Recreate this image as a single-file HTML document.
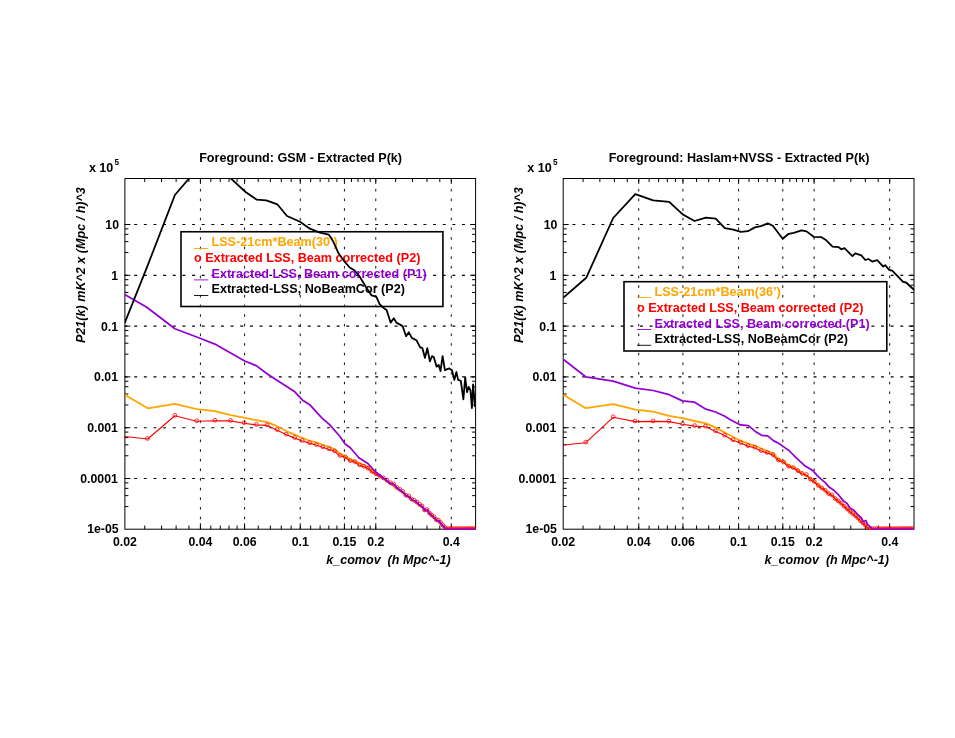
<!DOCTYPE html>
<html><head><meta charset="utf-8"><title>P(k)</title>
<style>html,body{margin:0;padding:0;background:#fff}svg{display:block;will-change:transform}text{font-family:"Liberation Sans",sans-serif;font-weight:bold}</style>
</head><body>
<svg width="955" height="738" viewBox="0 0 955 738">
<rect width="955" height="738" fill="#fff"/>
<clipPath id="c0"><rect x="124.9" y="178.5" width="350.7" height="351.35"/></clipPath>
<path d="M124.60,224.50H475.60M124.60,275.30H475.60M124.60,326.10H475.60M124.60,376.90H475.60M124.60,427.70H475.60M124.60,478.50H475.60" stroke="#000" stroke-width="1.15" stroke-dasharray="2.9 6.741" fill="none"/>
<path d="M200.42,179.25V529.20M244.59,179.25V529.20M300.25,179.25V529.20M344.43,179.25V529.20M375.77,179.25V529.20M451.29,179.25V529.20" stroke="#111" stroke-width="1" stroke-dasharray="2.6 7.041" fill="none"/>
<rect x="124.9" y="178.5" width="350.7" height="350.7" fill="none" stroke="#000" stroke-width="1"/>
<path d="M144.76,529.2v-3.7M144.76,178.5v3.5M161.56,529.2v-3.7M161.56,178.5v3.5M176.11,529.2v-3.7M176.11,178.5v3.5M188.94,529.2v-3.7M188.94,178.5v3.5M210.80,529.2v-3.7M210.80,178.5v3.5M220.28,529.2v-3.7M220.28,178.5v3.5M229.00,529.2v-3.7M229.00,178.5v3.5M237.08,529.2v-3.7M237.08,178.5v3.5M258.23,529.2v-3.7M258.23,178.5v3.5M270.35,529.2v-3.7M270.35,178.5v3.5M281.25,529.2v-3.7M281.25,178.5v3.5M291.17,529.2v-3.7M291.17,178.5v3.5M310.63,529.2v-3.7M310.63,178.5v3.5M320.11,529.2v-3.7M320.11,178.5v3.5M328.83,529.2v-3.7M328.83,178.5v3.5M336.91,529.2v-3.7M336.91,178.5v3.5M351.46,529.2v-3.7M351.46,178.5v3.5M358.06,529.2v-3.7M358.06,178.5v3.5M364.29,529.2v-3.7M364.29,178.5v3.5M370.18,529.2v-3.7M370.18,178.5v3.5M395.63,529.2v-3.7M395.63,178.5v3.5M412.43,529.2v-3.7M412.43,178.5v3.5M426.98,529.2v-3.7M426.98,178.5v3.5M439.81,529.2v-3.7M439.81,178.5v3.5M200.42,529.2v-5.9M200.42,178.5v5.4M244.59,529.2v-5.9M244.59,178.5v5.4M300.25,529.2v-5.9M300.25,178.5v5.4M344.43,529.2v-5.9M344.43,178.5v5.4M375.77,529.2v-5.9M375.77,178.5v5.4M451.29,529.2v-5.9M451.29,178.5v5.4M124.9,506.58h3.5M475.6,506.58h-3.5M124.9,495.63h3.5M475.6,495.63h-3.5M124.9,488.35h3.5M475.6,488.35h-3.5M124.9,482.88h3.5M475.6,482.88h-3.5M124.9,455.78h3.5M475.6,455.78h-3.5M124.9,444.83h3.5M475.6,444.83h-3.5M124.9,437.55h3.5M475.6,437.55h-3.5M124.9,432.08h3.5M475.6,432.08h-3.5M124.9,404.98h3.5M475.6,404.98h-3.5M124.9,394.03h3.5M475.6,394.03h-3.5M124.9,386.75h3.5M475.6,386.75h-3.5M124.9,381.28h3.5M475.6,381.28h-3.5M124.9,354.18h3.5M475.6,354.18h-3.5M124.9,343.23h3.5M475.6,343.23h-3.5M124.9,335.95h3.5M475.6,335.95h-3.5M124.9,330.48h3.5M475.6,330.48h-3.5M124.9,303.38h3.5M475.6,303.38h-3.5M124.9,292.43h3.5M475.6,292.43h-3.5M124.9,285.15h3.5M475.6,285.15h-3.5M124.9,279.68h3.5M475.6,279.68h-3.5M124.9,252.58h3.5M475.6,252.58h-3.5M124.9,241.63h3.5M475.6,241.63h-3.5M124.9,234.35h3.5M475.6,234.35h-3.5M124.9,228.88h3.5M475.6,228.88h-3.5M124.9,224.50h5.5M475.6,224.50h-5.5M124.9,275.30h5.5M475.6,275.30h-5.5M124.9,326.10h5.5M475.6,326.10h-5.5M124.9,376.90h5.5M475.6,376.90h-5.5M124.9,427.70h5.5M475.6,427.70h-5.5M124.9,478.50h5.5M475.6,478.50h-5.5" stroke="#000" stroke-width="1" fill="none"/>
<rect x="181.0" y="231.75" width="261.9" height="74.75" fill="none" stroke="#000" stroke-width="1.6"/>
<g font-size="12.62">
<path d="M194.0,248.5h14.2" stroke="#ffa500" stroke-width="0.9"/>
<text x="211.5" y="246.40" fill="#ffa500">LSS-21cm*Beam(30’)</text>
<text x="194.0" y="261.80" fill="#ff0000">o Extracted LSS, Beam corrected (P2)</text>
<path d="M194.0,279.9h14.2" stroke="#9400d3" stroke-width="0.9"/>
<text x="211.5" y="277.90" fill="#9400d3">Extracted LSS, Beam corrected (P1)</text>
<path d="M194.0,295.5h14.2" stroke="#000" stroke-width="0.9"/>
<text x="211.5" y="293.10" fill="#000">Extracted-LSS, NoBeamCor (P2)</text>
</g>
<g font-size="12.3" fill="#000">
<text x="124.9" y="546" text-anchor="middle">0.02</text>
<text x="200.4" y="546" text-anchor="middle">0.04</text>
<text x="244.6" y="546" text-anchor="middle">0.06</text>
<text x="300.2" y="546" text-anchor="middle">0.1</text>
<text x="344.4" y="546" text-anchor="middle">0.15</text>
<text x="375.8" y="546" text-anchor="middle">0.2</text>
<text x="451.3" y="546" text-anchor="middle">0.4</text>
<text x="119.05" y="229" text-anchor="end">10</text>
<text x="118.05" y="280" text-anchor="end">1</text>
<text x="118.15" y="331" text-anchor="end">0.1</text>
<text x="118.05" y="381" text-anchor="end">0.01</text>
<text x="117.95" y="432" text-anchor="end">0.001</text>
<text x="117.85" y="483" text-anchor="end">0.0001</text>
<text x="118.65" y="533" text-anchor="end">1e-05</text>
</g>
<text x="300.6" y="161.7" font-size="12.6" text-anchor="middle">Foreground: GSM - Extracted P(k)</text>
<text x="88.9" y="172" font-size="12.55">x 10</text>
<text x="114.6" y="165.2" font-size="8.2">5</text>
<text x="450.7" y="564" font-size="12.56" font-style="italic" text-anchor="end" xml:space="preserve" style="white-space:pre">k_comov  (h Mpc^-1)</text>
<text transform="translate(85.0,265.1) rotate(-90)" font-size="12.58" font-style="italic" text-anchor="middle">P21(k) mK^2 x (Mpc / h)^3</text>
<g clip-path="url(#c0)" fill="none" stroke-linejoin="round">
<path d="M124.7,394.7 L147.7,408.3 L174.8,403.9 L196.7,409.2 L214.8,411.1 L230.6,415.2 L243.8,417.7 L256.1,420.1 L267.2,422.2 L276.8,426.2 L290.0,432.7 L300.4,437.2 L308.9,440.5 L316.9,442.6 L323.0,445.0 L329.6,446.9 L335.2,449.7 L340.0,453.5 L345.1,456.3 L350.3,459.1 L356.0,461.5 L362.6,464.3 L368.2,467.1 L372.9,471.4 L379.5,475.6 L390.5,484.0 L403.2,493.0 L415.4,502.2 L427.6,511.0 L436.8,520.0 L446.1,529.2 L475.7,529.2" stroke="#ffa500" stroke-width="1.8"/>
<path d="M124.7,436.5 L147.7,439.0 L174.8,415.8 L196.7,421.3 L214.8,420.7 L230.6,420.9 L243.8,423.2 L256.1,424.9 L267.2,425.4 L276.8,429.9 L285.9,434.5 L294.2,437.9 L301.8,440.7 L309.3,443.1 L316.1,445.0 L322.5,447.3 L328.6,449.2 L334.3,451.1 L339.5,455.8 L345.0,457.2 L349.9,461.0 L354.6,461.9 L359.3,465.2 L364.0,466.8 L367.8,468.5 L372.0,472.0 L375.8,474.2 L379.5,476.6 L384.6,479.0 L390.5,483.4 L393.9,484.4 L396.8,487.8 L403.2,492.2 L405.6,495.6 L409.0,496.6 L412.0,500.0 L415.4,501.0 L418.8,504.4 L422.7,506.8 L424.6,510.7 L427.6,509.8 L429.5,513.7 L434.4,517.6 L436.8,521.0 L438.8,520.5 L441.7,524.4 L446.1,529.2 L475.7,529.2" stroke="#ff0000" stroke-width="1.15"/>
<path d="M149.4,438.5a1.9,1.9 0 1,0 -3.8,0a1.9,1.9 0 1,0 3.8,0M176.8,415.3a1.9,1.9 0 1,0 -3.8,0a1.9,1.9 0 1,0 3.8,0M198.6,420.8a1.9,1.9 0 1,0 -3.8,0a1.9,1.9 0 1,0 3.8,0M216.8,420.2a1.9,1.9 0 1,0 -3.8,0a1.9,1.9 0 1,0 3.8,0M232.4,420.4a1.9,1.9 0 1,0 -3.8,0a1.9,1.9 0 1,0 3.8,0M246.0,422.7a1.9,1.9 0 1,0 -3.8,0a1.9,1.9 0 1,0 3.8,0M258.2,424.4a1.9,1.9 0 1,0 -3.8,0a1.9,1.9 0 1,0 3.8,0M269.1,424.9a1.9,1.9 0 1,0 -3.8,0a1.9,1.9 0 1,0 3.8,0M279.0,429.5a1.9,1.9 0 1,0 -3.8,0a1.9,1.9 0 1,0 3.8,0M288.1,434.1a1.9,1.9 0 1,0 -3.8,0a1.9,1.9 0 1,0 3.8,0M296.5,437.5a1.9,1.9 0 1,0 -3.8,0a1.9,1.9 0 1,0 3.8,0M304.2,440.4a1.9,1.9 0 1,0 -3.8,0a1.9,1.9 0 1,0 3.8,0M311.5,442.7a1.9,1.9 0 1,0 -3.8,0a1.9,1.9 0 1,0 3.8,0M318.3,444.6a1.9,1.9 0 1,0 -3.8,0a1.9,1.9 0 1,0 3.8,0M324.7,446.9a1.9,1.9 0 1,0 -3.8,0a1.9,1.9 0 1,0 3.8,0M330.8,448.8a1.9,1.9 0 1,0 -3.8,0a1.9,1.9 0 1,0 3.8,0M336.5,450.9a1.9,1.9 0 1,0 -3.8,0a1.9,1.9 0 1,0 3.8,0M342.0,455.4a1.9,1.9 0 1,0 -3.8,0a1.9,1.9 0 1,0 3.8,0M347.2,456.9a1.9,1.9 0 1,0 -3.8,0a1.9,1.9 0 1,0 3.8,0M352.1,460.6a1.9,1.9 0 1,0 -3.8,0a1.9,1.9 0 1,0 3.8,0M356.8,461.6a1.9,1.9 0 1,0 -3.8,0a1.9,1.9 0 1,0 3.8,0M361.4,464.8a1.9,1.9 0 1,0 -3.8,0a1.9,1.9 0 1,0 3.8,0M365.7,466.2a1.9,1.9 0 1,0 -3.8,0a1.9,1.9 0 1,0 3.8,0M369.9,468.2a1.9,1.9 0 1,0 -3.8,0a1.9,1.9 0 1,0 3.8,0M374.0,471.5a1.9,1.9 0 1,0 -3.8,0a1.9,1.9 0 1,0 3.8,0M377.9,473.8a1.9,1.9 0 1,0 -3.8,0a1.9,1.9 0 1,0 3.8,0M381.6,476.2a1.9,1.9 0 1,0 -3.8,0a1.9,1.9 0 1,0 3.8,0M385.3,477.9a1.9,1.9 0 1,0 -3.8,0a1.9,1.9 0 1,0 3.8,0M388.8,480.2a1.9,1.9 0 1,0 -3.8,0a1.9,1.9 0 1,0 3.8,0M392.2,482.7a1.9,1.9 0 1,0 -3.8,0a1.9,1.9 0 1,0 3.8,0M395.5,483.8a1.9,1.9 0 1,0 -3.8,0a1.9,1.9 0 1,0 3.8,0M398.7,487.3a1.9,1.9 0 1,0 -3.8,0a1.9,1.9 0 1,0 3.8,0M401.8,489.4a1.9,1.9 0 1,0 -3.8,0a1.9,1.9 0 1,0 3.8,0M404.8,491.5a1.9,1.9 0 1,0 -3.8,0a1.9,1.9 0 1,0 3.8,0M407.8,495.2a1.9,1.9 0 1,0 -3.8,0a1.9,1.9 0 1,0 3.8,0M410.6,496.0a1.9,1.9 0 1,0 -3.8,0a1.9,1.9 0 1,0 3.8,0M413.4,499.0a1.9,1.9 0 1,0 -3.8,0a1.9,1.9 0 1,0 3.8,0M416.1,500.2a1.9,1.9 0 1,0 -3.8,0a1.9,1.9 0 1,0 3.8,0M418.8,502.0a1.9,1.9 0 1,0 -3.8,0a1.9,1.9 0 1,0 3.8,0M421.4,504.3a1.9,1.9 0 1,0 -3.8,0a1.9,1.9 0 1,0 3.8,0M423.9,505.9a1.9,1.9 0 1,0 -3.8,0a1.9,1.9 0 1,0 3.8,0M426.4,510.0a1.9,1.9 0 1,0 -3.8,0a1.9,1.9 0 1,0 3.8,0M428.8,509.5a1.9,1.9 0 1,0 -3.8,0a1.9,1.9 0 1,0 3.8,0M431.2,512.8a1.9,1.9 0 1,0 -3.8,0a1.9,1.9 0 1,0 3.8,0M433.5,514.9a1.9,1.9 0 1,0 -3.8,0a1.9,1.9 0 1,0 3.8,0M435.8,516.7a1.9,1.9 0 1,0 -3.8,0a1.9,1.9 0 1,0 3.8,0M438.0,519.5a1.9,1.9 0 1,0 -3.8,0a1.9,1.9 0 1,0 3.8,0M440.2,520.1a1.9,1.9 0 1,0 -3.8,0a1.9,1.9 0 1,0 3.8,0M442.3,522.2a1.9,1.9 0 1,0 -3.8,0a1.9,1.9 0 1,0 3.8,0M444.4,524.8a1.9,1.9 0 1,0 -3.8,0a1.9,1.9 0 1,0 3.8,0M446.5,527.0a1.9,1.9 0 1,0 -3.8,0a1.9,1.9 0 1,0 3.8,0M448.5,528.7a1.9,1.9 0 1,0 -3.8,0a1.9,1.9 0 1,0 3.8,0M450.5,528.7a1.9,1.9 0 1,0 -3.8,0a1.9,1.9 0 1,0 3.8,0M452.4,528.7a1.9,1.9 0 1,0 -3.8,0a1.9,1.9 0 1,0 3.8,0M454.3,528.7a1.9,1.9 0 1,0 -3.8,0a1.9,1.9 0 1,0 3.8,0M456.2,528.7a1.9,1.9 0 1,0 -3.8,0a1.9,1.9 0 1,0 3.8,0M458.1,528.7a1.9,1.9 0 1,0 -3.8,0a1.9,1.9 0 1,0 3.8,0M459.9,528.7a1.9,1.9 0 1,0 -3.8,0a1.9,1.9 0 1,0 3.8,0M461.7,528.7a1.9,1.9 0 1,0 -3.8,0a1.9,1.9 0 1,0 3.8,0M463.4,528.7a1.9,1.9 0 1,0 -3.8,0a1.9,1.9 0 1,0 3.8,0M465.1,528.7a1.9,1.9 0 1,0 -3.8,0a1.9,1.9 0 1,0 3.8,0M466.8,528.7a1.9,1.9 0 1,0 -3.8,0a1.9,1.9 0 1,0 3.8,0M468.5,528.7a1.9,1.9 0 1,0 -3.8,0a1.9,1.9 0 1,0 3.8,0M470.2,528.7a1.9,1.9 0 1,0 -3.8,0a1.9,1.9 0 1,0 3.8,0M471.8,528.7a1.9,1.9 0 1,0 -3.8,0a1.9,1.9 0 1,0 3.8,0M473.4,528.7a1.9,1.9 0 1,0 -3.8,0a1.9,1.9 0 1,0 3.8,0M475.0,528.7a1.9,1.9 0 1,0 -3.8,0a1.9,1.9 0 1,0 3.8,0M476.5,528.7a1.9,1.9 0 1,0 -3.8,0a1.9,1.9 0 1,0 3.8,0" stroke="#ff0000" stroke-width="0.8"/>
<path d="M124.7,294.5 L146.8,307.2 L174.9,328.7 L200.0,338.3 L214.9,344.1 L244.7,361.0 L256.2,365.6 L267.7,374.2 L294.8,391.8 L302.3,399.9 L309.7,404.7 L321.8,417.9 L329.6,424.7 L340.0,436.5 L345.1,444.0 L350.3,447.8 L358.8,457.7 L368.2,463.8 L372.9,469.0 L375.9,472.2 L384.6,479.0 L390.5,483.4 L393.9,484.4 L396.8,487.8 L403.2,492.2 L405.6,495.6 L409.0,496.6 L412.0,500.0 L415.4,501.0 L418.8,504.4 L422.7,506.8 L424.6,510.7 L427.6,509.8 L429.5,513.7 L434.4,517.6 L436.8,521.0 L438.8,520.5 L441.7,524.4 L446.3,529.2 L475.7,529.2" stroke="#9400d3" stroke-width="1.75"/>
<path d="M124.7,322.9 L146.8,267.7 L174.9,195.0 L189.5,178.0 L196.7,170.0 L214.8,165.0 L231.0,178.7 L245.6,192.0 L256.6,199.6 L266.3,200.4 L277.3,204.3 L287.0,216.0 L300.0,221.8 L309.9,228.7 L319.8,232.7 L328.8,234.7 L332.8,240.7 L338.7,253.6 L343.7,260.6 L349.7,267.5 L354.7,270.5 L359.6,276.5 L365.6,286.4 L371.6,295.4 L376.2,296.7 L379.7,304.1 L383.2,307.6 L386.7,310.3 L390.6,322.6 L393.8,318.2 L396.4,322.6 L402.6,326.1 L406.1,336.2 L408.8,332.3 L411.8,337.9 L416.4,340.2 L420.2,347.3 L422.4,348.2 L425.0,357.9 L427.3,348.2 L429.9,361.4 L432.0,356.1 L433.8,357.3 L436.6,366.7 L438.7,364.9 L440.5,371.1 L442.6,356.1 L444.9,370.2 L449.3,368.4 L452.0,370.2 L454.3,379.9 L456.4,372.0 L458.1,379.9 L460.8,380.8 L463.4,399.3 L465.2,377.2 L467.0,392.2 L468.7,386.9 L470.5,390.5 L471.9,408.1 L473.1,384.3 L474.9,406.3 L475.6,398.0" stroke="#000" stroke-width="1.8"/>
</g>
<clipPath id="c1"><rect x="563.2" y="178.5" width="350.8" height="351.35"/></clipPath>
<path d="M562.90,224.50H914.00M562.90,275.30H914.00M562.90,326.10H914.00M562.90,376.90H914.00M562.90,427.70H914.00M562.90,478.50H914.00" stroke="#000" stroke-width="1.15" stroke-dasharray="2.9 6.741" fill="none"/>
<path d="M638.74,179.25V529.20M682.93,179.25V529.20M738.60,179.25V529.20M782.79,179.25V529.20M814.14,179.25V529.20M889.68,179.25V529.20" stroke="#111" stroke-width="1" stroke-dasharray="2.6 7.041" fill="none"/>
<rect x="563.2" y="178.5" width="350.8" height="350.7" fill="none" stroke="#000" stroke-width="1"/>
<path d="M583.07,529.2v-3.7M583.07,178.5v3.5M599.87,529.2v-3.7M599.87,178.5v3.5M614.42,529.2v-3.7M614.42,178.5v3.5M627.26,529.2v-3.7M627.26,178.5v3.5M649.13,529.2v-3.7M649.13,178.5v3.5M658.61,529.2v-3.7M658.61,178.5v3.5M667.33,529.2v-3.7M667.33,178.5v3.5M675.41,529.2v-3.7M675.41,178.5v3.5M696.57,529.2v-3.7M696.57,178.5v3.5M708.69,529.2v-3.7M708.69,178.5v3.5M719.60,529.2v-3.7M719.60,178.5v3.5M729.51,529.2v-3.7M729.51,178.5v3.5M748.99,529.2v-3.7M748.99,178.5v3.5M758.47,529.2v-3.7M758.47,178.5v3.5M767.19,529.2v-3.7M767.19,178.5v3.5M775.27,529.2v-3.7M775.27,178.5v3.5M789.82,529.2v-3.7M789.82,178.5v3.5M796.43,529.2v-3.7M796.43,178.5v3.5M802.66,529.2v-3.7M802.66,178.5v3.5M808.55,529.2v-3.7M808.55,178.5v3.5M834.01,529.2v-3.7M834.01,178.5v3.5M850.81,529.2v-3.7M850.81,178.5v3.5M865.36,529.2v-3.7M865.36,178.5v3.5M878.20,529.2v-3.7M878.20,178.5v3.5M638.74,529.2v-5.9M638.74,178.5v5.4M682.93,529.2v-5.9M682.93,178.5v5.4M738.60,529.2v-5.9M738.60,178.5v5.4M782.79,529.2v-5.9M782.79,178.5v5.4M814.14,529.2v-5.9M814.14,178.5v5.4M889.68,529.2v-5.9M889.68,178.5v5.4M563.2,506.58h3.5M914.0,506.58h-3.5M563.2,495.63h3.5M914.0,495.63h-3.5M563.2,488.35h3.5M914.0,488.35h-3.5M563.2,482.88h3.5M914.0,482.88h-3.5M563.2,455.78h3.5M914.0,455.78h-3.5M563.2,444.83h3.5M914.0,444.83h-3.5M563.2,437.55h3.5M914.0,437.55h-3.5M563.2,432.08h3.5M914.0,432.08h-3.5M563.2,404.98h3.5M914.0,404.98h-3.5M563.2,394.03h3.5M914.0,394.03h-3.5M563.2,386.75h3.5M914.0,386.75h-3.5M563.2,381.28h3.5M914.0,381.28h-3.5M563.2,354.18h3.5M914.0,354.18h-3.5M563.2,343.23h3.5M914.0,343.23h-3.5M563.2,335.95h3.5M914.0,335.95h-3.5M563.2,330.48h3.5M914.0,330.48h-3.5M563.2,303.38h3.5M914.0,303.38h-3.5M563.2,292.43h3.5M914.0,292.43h-3.5M563.2,285.15h3.5M914.0,285.15h-3.5M563.2,279.68h3.5M914.0,279.68h-3.5M563.2,252.58h3.5M914.0,252.58h-3.5M563.2,241.63h3.5M914.0,241.63h-3.5M563.2,234.35h3.5M914.0,234.35h-3.5M563.2,228.88h3.5M914.0,228.88h-3.5M563.2,224.50h5.5M914.0,224.50h-5.5M563.2,275.30h5.5M914.0,275.30h-5.5M563.2,326.10h5.5M914.0,326.10h-5.5M563.2,376.90h5.5M914.0,376.90h-5.5M563.2,427.70h5.5M914.0,427.70h-5.5M563.2,478.50h5.5M914.0,478.50h-5.5" stroke="#000" stroke-width="1" fill="none"/>
<rect x="624.0" y="281.7" width="262.8" height="69.3" fill="none" stroke="#000" stroke-width="1.6"/>
<g font-size="12.62">
<path d="M637.0,297.5h14.2" stroke="#ffa500" stroke-width="0.9"/>
<text x="654.5" y="295.65" fill="#ffa500">LSS-21cm*Beam(36’)</text>
<text x="637.0" y="311.85" fill="#ff0000">o Extracted LSS, Beam corrected (P2)</text>
<path d="M637.0,329.5h14.2" stroke="#9400d3" stroke-width="0.9"/>
<text x="654.5" y="327.65" fill="#9400d3">Extracted LSS, Beam corrected (P1)</text>
<path d="M637.0,345.3h14.2" stroke="#000" stroke-width="0.9"/>
<text x="654.5" y="342.95" fill="#000">Extracted-LSS, NoBeamCor (P2)</text>
</g>
<g font-size="12.3" fill="#000">
<text x="563.2" y="546" text-anchor="middle">0.02</text>
<text x="638.7" y="546" text-anchor="middle">0.04</text>
<text x="682.9" y="546" text-anchor="middle">0.06</text>
<text x="738.6" y="546" text-anchor="middle">0.1</text>
<text x="782.8" y="546" text-anchor="middle">0.15</text>
<text x="814.1" y="546" text-anchor="middle">0.2</text>
<text x="889.7" y="546" text-anchor="middle">0.4</text>
<text x="557.35" y="229" text-anchor="end">10</text>
<text x="556.35" y="280" text-anchor="end">1</text>
<text x="556.45" y="331" text-anchor="end">0.1</text>
<text x="556.35" y="381" text-anchor="end">0.01</text>
<text x="556.25" y="432" text-anchor="end">0.001</text>
<text x="556.15" y="483" text-anchor="end">0.0001</text>
<text x="556.95" y="533" text-anchor="end">1e-05</text>
</g>
<text x="739.0" y="161.7" font-size="12.6" text-anchor="middle">Foreground: Haslam+NVSS - Extracted P(k)</text>
<text x="527.2" y="172" font-size="12.55">x 10</text>
<text x="552.9" y="165.2" font-size="8.2">5</text>
<text x="889.0" y="564" font-size="12.56" font-style="italic" text-anchor="end" xml:space="preserve" style="white-space:pre">k_comov  (h Mpc^-1)</text>
<text transform="translate(523.0,265.1) rotate(-90)" font-size="12.58" font-style="italic" text-anchor="middle">P21(k) mK^2 x (Mpc / h)^3</text>
<g clip-path="url(#c1)" fill="none" stroke-linejoin="round">
<path d="M563.4,394.7 L585.7,408.2 L613.2,404.1 L635.3,409.7 L653.2,411.6 L669.2,415.8 L682.4,418.2 L694.6,421.0 L705.9,423.3 L715.7,427.6 L730.0,435.3 L739.4,440.2 L748.9,443.9 L755.4,445.8 L762.0,448.8 L767.7,451.0 L773.4,453.5 L778.1,458.5 L783.7,461.4 L788.4,465.1 L794.1,467.5 L801.3,472.6 L810.6,478.6 L819.0,485.6 L828.4,492.8 L835.2,498.2 L845.1,506.6 L854.4,514.6 L861.7,521.8 L869.5,529.2 L914.2,529.2" stroke="#ffa500" stroke-width="1.8"/>
<path d="M563.4,445.0 L585.7,442.7 L613.2,417.3 L635.3,421.6 L653.2,421.4 L669.2,421.6 L682.4,424.2 L694.6,426.1 L705.9,426.7 L715.7,431.4 L724.8,435.6 L732.8,440.2 L740.4,443.0 L747.9,446.1 L754.7,447.7 L761.1,451.0 L767.0,452.9 L772.9,455.0 L778.1,460.4 L783.4,462.3 L788.2,466.6 L793.1,468.0 L795.0,469.0 L801.3,473.7 L807.0,475.2 L810.6,479.9 L814.3,482.0 L819.0,486.7 L824.7,490.3 L828.4,494.0 L832.5,495.6 L835.2,499.2 L840.9,503.4 L845.1,507.5 L850.3,512.2 L854.4,515.4 L858.6,519.0 L861.7,522.7 L863.8,523.7 L867.0,527.4 L869.9,529.2 L914.2,529.2" stroke="#ff0000" stroke-width="1.15"/>
<path d="M587.7,442.1a1.9,1.9 0 1,0 -3.8,0a1.9,1.9 0 1,0 3.8,0M615.1,416.8a1.9,1.9 0 1,0 -3.8,0a1.9,1.9 0 1,0 3.8,0M636.9,421.0a1.9,1.9 0 1,0 -3.8,0a1.9,1.9 0 1,0 3.8,0M655.1,420.9a1.9,1.9 0 1,0 -3.8,0a1.9,1.9 0 1,0 3.8,0M670.7,421.1a1.9,1.9 0 1,0 -3.8,0a1.9,1.9 0 1,0 3.8,0M684.4,423.7a1.9,1.9 0 1,0 -3.8,0a1.9,1.9 0 1,0 3.8,0M696.5,425.6a1.9,1.9 0 1,0 -3.8,0a1.9,1.9 0 1,0 3.8,0M707.4,426.2a1.9,1.9 0 1,0 -3.8,0a1.9,1.9 0 1,0 3.8,0M717.3,430.8a1.9,1.9 0 1,0 -3.8,0a1.9,1.9 0 1,0 3.8,0M726.4,435.0a1.9,1.9 0 1,0 -3.8,0a1.9,1.9 0 1,0 3.8,0M734.8,439.7a1.9,1.9 0 1,0 -3.8,0a1.9,1.9 0 1,0 3.8,0M742.6,442.6a1.9,1.9 0 1,0 -3.8,0a1.9,1.9 0 1,0 3.8,0M749.9,445.6a1.9,1.9 0 1,0 -3.8,0a1.9,1.9 0 1,0 3.8,0M756.7,447.2a1.9,1.9 0 1,0 -3.8,0a1.9,1.9 0 1,0 3.8,0M763.1,450.5a1.9,1.9 0 1,0 -3.8,0a1.9,1.9 0 1,0 3.8,0M769.1,452.5a1.9,1.9 0 1,0 -3.8,0a1.9,1.9 0 1,0 3.8,0M774.9,454.6a1.9,1.9 0 1,0 -3.8,0a1.9,1.9 0 1,0 3.8,0M780.3,460.0a1.9,1.9 0 1,0 -3.8,0a1.9,1.9 0 1,0 3.8,0M785.5,462.0a1.9,1.9 0 1,0 -3.8,0a1.9,1.9 0 1,0 3.8,0M790.5,466.2a1.9,1.9 0 1,0 -3.8,0a1.9,1.9 0 1,0 3.8,0M795.2,467.6a1.9,1.9 0 1,0 -3.8,0a1.9,1.9 0 1,0 3.8,0M799.8,470.6a1.9,1.9 0 1,0 -3.8,0a1.9,1.9 0 1,0 3.8,0M804.1,473.4a1.9,1.9 0 1,0 -3.8,0a1.9,1.9 0 1,0 3.8,0M808.3,474.5a1.9,1.9 0 1,0 -3.8,0a1.9,1.9 0 1,0 3.8,0M812.3,479.2a1.9,1.9 0 1,0 -3.8,0a1.9,1.9 0 1,0 3.8,0M816.2,481.5a1.9,1.9 0 1,0 -3.8,0a1.9,1.9 0 1,0 3.8,0M820.0,485.3a1.9,1.9 0 1,0 -3.8,0a1.9,1.9 0 1,0 3.8,0M823.6,487.9a1.9,1.9 0 1,0 -3.8,0a1.9,1.9 0 1,0 3.8,0M827.1,490.3a1.9,1.9 0 1,0 -3.8,0a1.9,1.9 0 1,0 3.8,0M830.5,493.6a1.9,1.9 0 1,0 -3.8,0a1.9,1.9 0 1,0 3.8,0M833.8,494.9a1.9,1.9 0 1,0 -3.8,0a1.9,1.9 0 1,0 3.8,0M837.1,498.6a1.9,1.9 0 1,0 -3.8,0a1.9,1.9 0 1,0 3.8,0M840.2,501.0a1.9,1.9 0 1,0 -3.8,0a1.9,1.9 0 1,0 3.8,0M843.2,503.3a1.9,1.9 0 1,0 -3.8,0a1.9,1.9 0 1,0 3.8,0M846.1,506.2a1.9,1.9 0 1,0 -3.8,0a1.9,1.9 0 1,0 3.8,0M849.0,508.8a1.9,1.9 0 1,0 -3.8,0a1.9,1.9 0 1,0 3.8,0M851.8,511.3a1.9,1.9 0 1,0 -3.8,0a1.9,1.9 0 1,0 3.8,0M854.5,513.5a1.9,1.9 0 1,0 -3.8,0a1.9,1.9 0 1,0 3.8,0M857.2,515.7a1.9,1.9 0 1,0 -3.8,0a1.9,1.9 0 1,0 3.8,0M859.8,517.9a1.9,1.9 0 1,0 -3.8,0a1.9,1.9 0 1,0 3.8,0M862.3,520.7a1.9,1.9 0 1,0 -3.8,0a1.9,1.9 0 1,0 3.8,0M864.8,522.8a1.9,1.9 0 1,0 -3.8,0a1.9,1.9 0 1,0 3.8,0M867.2,525.0a1.9,1.9 0 1,0 -3.8,0a1.9,1.9 0 1,0 3.8,0M869.6,527.3a1.9,1.9 0 1,0 -3.8,0a1.9,1.9 0 1,0 3.8,0M871.9,528.7a1.9,1.9 0 1,0 -3.8,0a1.9,1.9 0 1,0 3.8,0M874.2,528.7a1.9,1.9 0 1,0 -3.8,0a1.9,1.9 0 1,0 3.8,0M876.4,528.7a1.9,1.9 0 1,0 -3.8,0a1.9,1.9 0 1,0 3.8,0M878.6,528.7a1.9,1.9 0 1,0 -3.8,0a1.9,1.9 0 1,0 3.8,0M880.7,528.7a1.9,1.9 0 1,0 -3.8,0a1.9,1.9 0 1,0 3.8,0M882.8,528.7a1.9,1.9 0 1,0 -3.8,0a1.9,1.9 0 1,0 3.8,0M884.9,528.7a1.9,1.9 0 1,0 -3.8,0a1.9,1.9 0 1,0 3.8,0M886.9,528.7a1.9,1.9 0 1,0 -3.8,0a1.9,1.9 0 1,0 3.8,0M888.9,528.7a1.9,1.9 0 1,0 -3.8,0a1.9,1.9 0 1,0 3.8,0M890.8,528.7a1.9,1.9 0 1,0 -3.8,0a1.9,1.9 0 1,0 3.8,0M892.7,528.7a1.9,1.9 0 1,0 -3.8,0a1.9,1.9 0 1,0 3.8,0M894.6,528.7a1.9,1.9 0 1,0 -3.8,0a1.9,1.9 0 1,0 3.8,0M896.5,528.7a1.9,1.9 0 1,0 -3.8,0a1.9,1.9 0 1,0 3.8,0M898.3,528.7a1.9,1.9 0 1,0 -3.8,0a1.9,1.9 0 1,0 3.8,0M900.1,528.7a1.9,1.9 0 1,0 -3.8,0a1.9,1.9 0 1,0 3.8,0M901.8,528.7a1.9,1.9 0 1,0 -3.8,0a1.9,1.9 0 1,0 3.8,0M903.5,528.7a1.9,1.9 0 1,0 -3.8,0a1.9,1.9 0 1,0 3.8,0M905.2,528.7a1.9,1.9 0 1,0 -3.8,0a1.9,1.9 0 1,0 3.8,0M906.9,528.7a1.9,1.9 0 1,0 -3.8,0a1.9,1.9 0 1,0 3.8,0M908.6,528.7a1.9,1.9 0 1,0 -3.8,0a1.9,1.9 0 1,0 3.8,0M910.2,528.7a1.9,1.9 0 1,0 -3.8,0a1.9,1.9 0 1,0 3.8,0M911.8,528.7a1.9,1.9 0 1,0 -3.8,0a1.9,1.9 0 1,0 3.8,0M913.4,528.7a1.9,1.9 0 1,0 -3.8,0a1.9,1.9 0 1,0 3.8,0M914.9,528.7a1.9,1.9 0 1,0 -3.8,0a1.9,1.9 0 1,0 3.8,0" stroke="#ff0000" stroke-width="0.8"/>
<path d="M563.4,359.4 L585.7,376.8 L613.2,381.1 L635.3,388.1 L653.2,390.5 L669.2,394.7 L682.4,400.9 L694.6,402.2 L705.9,409.2 L715.7,412.0 L724.8,416.3 L730.0,419.4 L740.4,424.9 L748.4,425.6 L755.0,431.2 L761.6,435.3 L767.7,435.9 L773.4,440.6 L779.0,443.5 L783.7,446.9 L788.9,450.5 L796.0,457.6 L804.4,465.4 L812.7,470.6 L818.5,476.9 L825.2,482.6 L829.4,487.3 L834.1,490.5 L838.8,495.2 L843.5,500.9 L847.1,503.5 L850.3,508.2 L853.9,510.3 L857.6,514.4 L861.2,517.6 L863.3,521.7 L865.9,520.5 L867.5,524.4 L872.9,529.2 L914.2,529.2" stroke="#9400d3" stroke-width="1.75"/>
<path d="M563.4,297.6 L586.3,277.7 L613.2,218.0 L635.3,194.2 L653.2,200.4 L669.2,201.8 L682.4,214.2 L694.6,221.0 L705.9,217.6 L715.7,218.7 L724.8,228.1 L733.3,229.7 L740.9,231.8 L747.9,231.2 L754.9,227.4 L760.8,226.2 L767.8,223.4 L772.8,225.8 L782.7,238.7 L788.7,233.8 L793.7,232.8 L801.6,230.4 L806.6,231.4 L813.6,236.8 L821.5,237.2 L825.5,239.7 L832.5,246.7 L838.4,247.1 L841.4,249.3 L844.4,248.1 L852.4,256.1 L855.3,253.3 L861.3,255.3 L865.3,260.0 L868.3,259.0 L872.3,261.6 L877.2,260.2 L883.2,266.6 L885.2,265.2 L889.2,270.0 L892.2,270.6 L896.1,274.6 L903.1,281.9 L906.1,282.5 L914.2,290.0" stroke="#000" stroke-width="1.8"/>
</g>
</svg></body></html>
